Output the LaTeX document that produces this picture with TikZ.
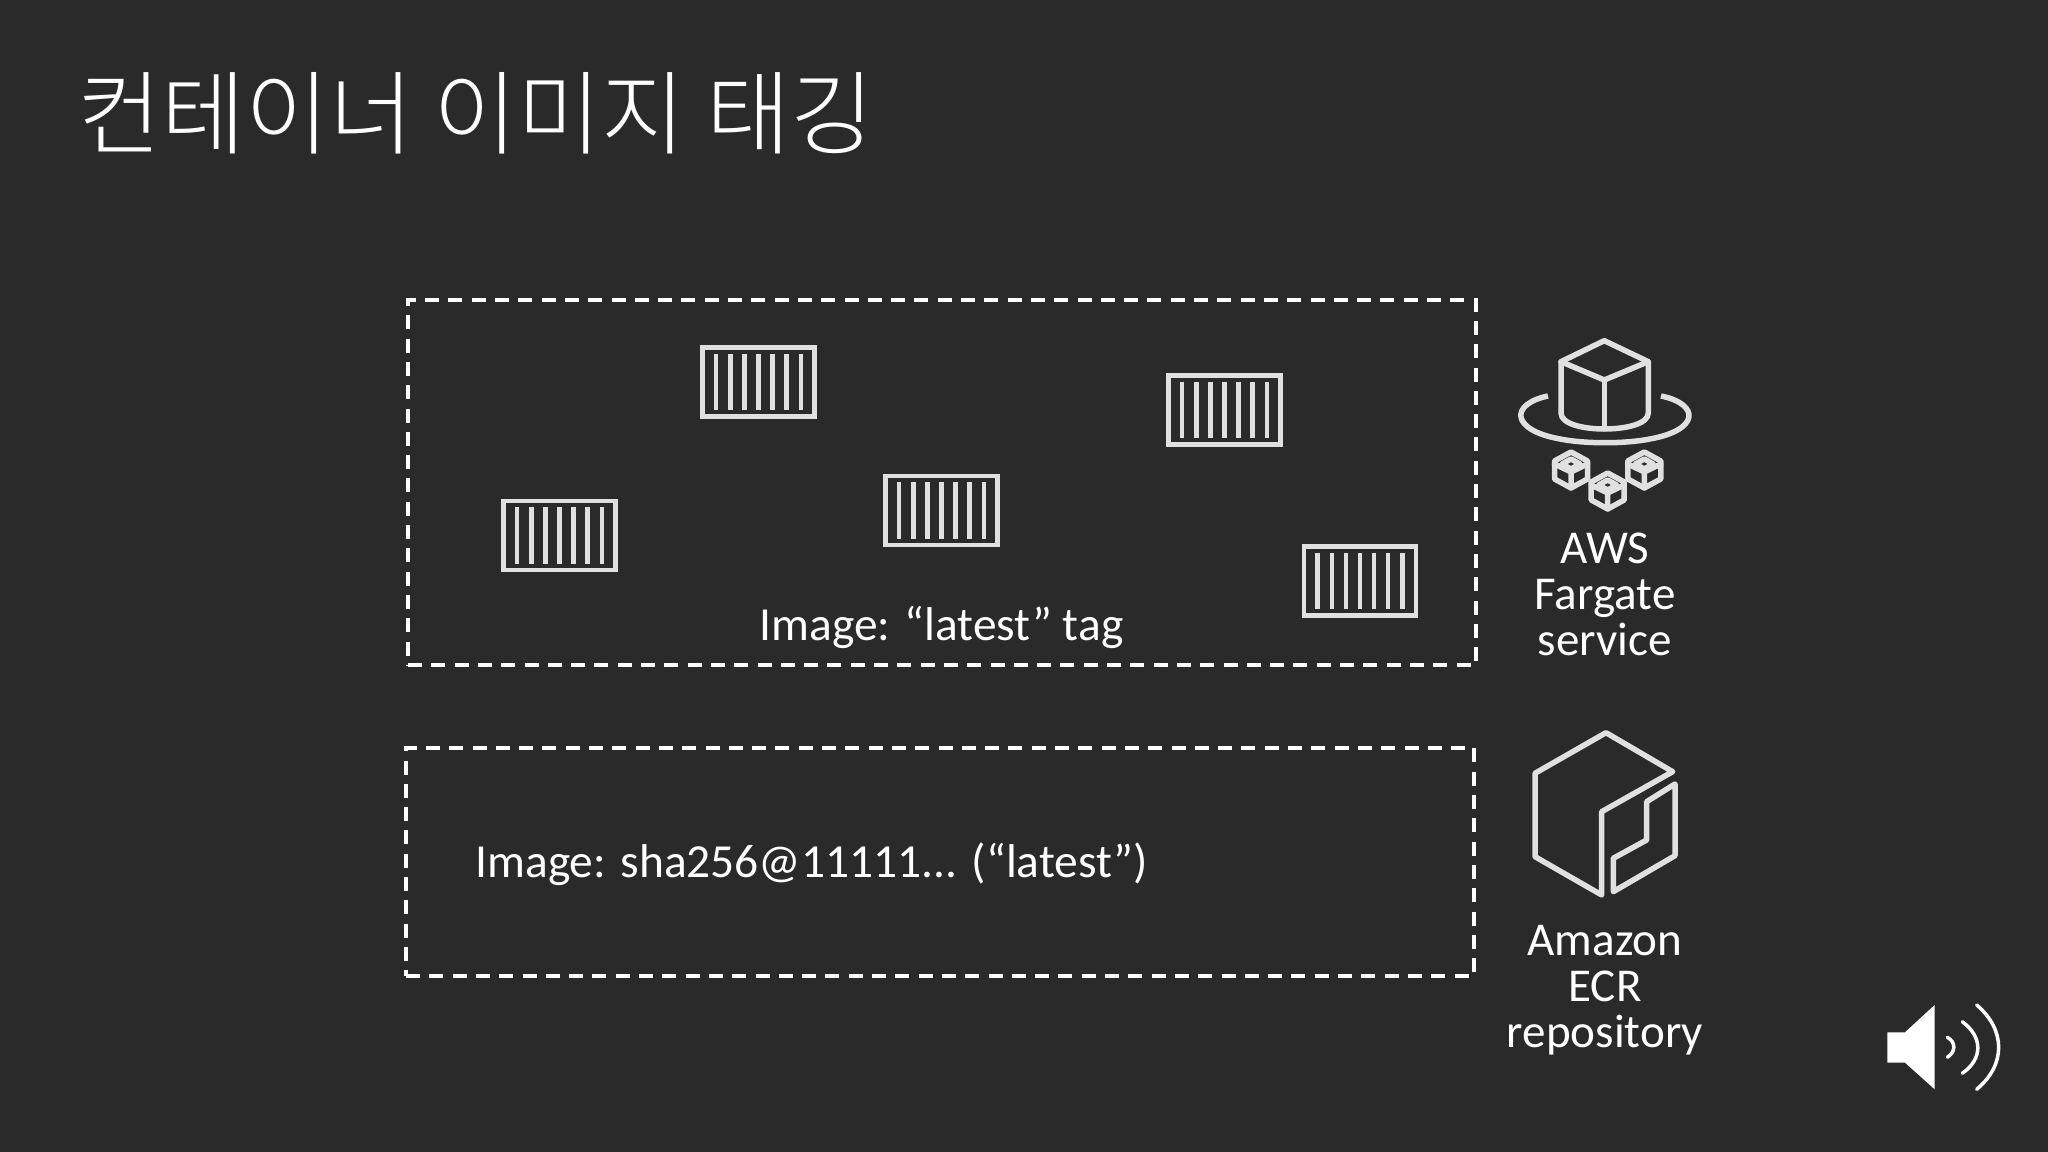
\documentclass[tikz,border=0pt]{standalone}
\usepackage{fontspec}
\setmainfont{Carlito}
\newfontfamily\cjk{Noto Sans CJK KR Light}
\definecolor{slidebg}{HTML}{2A2A2B}
\definecolor{icongrey}{HTML}{E0E0E0}
\tikzset{
  dashbox/.style={draw=white,line width=0.035cm,dash pattern=on 0.14cm off 0.093cm,inner sep=0pt},
  containerbox/.style={draw=icongrey,line width=0.045cm,minimum width=1.12cm,minimum height=0.69cm,inner sep=0pt},
  iconline/.style={draw=icongrey,line width=0.055cm,line join=round,line cap=round},
  boxlabel/.style={text=white,font=\fontsize{13.5}{13.5}\selectfont},
  iconlabel/.style={text=white,font=\fontsize{13.4}{13.1}\selectfont,align=center}
}
\newcommand{\containerbars}[1]{
  \foreach \i in {-3,...,3}
    \draw[icongrey,line width=0.045cm] ([xshift=\i*0.141cm,yshift=-0.085cm]#1.north) -- ([xshift=\i*0.141cm,yshift=0.085cm]#1.south);
}
\newcommand{\smallcube}[2]{
  \begin{scope}[shift={(#1,#2)}]
    \draw[iconline] (0,0.18) -- (0.165,0.09) -- (0.165,-0.09) -- (0,-0.18) -- (-0.165,-0.09) -- (-0.165,0.09) -- cycle;
    \draw[iconline] (-0.165,0.06) -- (0,-0.02) -- (0.165,0.06) (0,-0.02) -- (0,-0.18);
    \draw[iconline] (0,0.11) -- (0.09,0.06) -- (0,0.01) -- (-0.09,0.06) -- cycle;
  \end{scope}
}
\begin{document}
\begin{tikzpicture}
\useasboundingbox[fill=slidebg] (0,0) rectangle (20.48,11.52);
% title
\node (title) at (4.758,10.39) [text=white,font=\cjk\fontsize{26}{26}\selectfont] {컨테이너 이미지 태깅};
% dashed boxes
\node (fargatebox) at (9.42,6.695) [dashbox,minimum width=10.68cm,minimum height=3.65cm] {};
\node (ecrbox) at (9.40,2.90) [dashbox,minimum width=10.68cm,minimum height=2.28cm] {};
% containers
\node (c1) at (7.585,7.70) [containerbox] {};
\node (c2) at (12.245,7.42) [containerbox] {};
\node (c3) at (9.415,6.415) [containerbox] {};
\node (c4) at (5.595,6.165) [containerbox] {};
\node (c5) at (13.60,5.71) [containerbox] {};
\containerbars{c1}
\containerbars{c2}
\containerbars{c3}
\containerbars{c4}
\containerbars{c5}
% labels
\node (latest) at (9.415,5.25) [boxlabel] {Image: “latest” tag};
\node (sha) at (8.117,2.88) [boxlabel] {Image: sha256@11111... (“latest”)};
\node (fargate) at (16.05,5.58) [iconlabel] {AWS\\Fargate\\service};
\node (ecr) at (16.05,1.62) [iconlabel] {Amazon\\ECR\\repository};
% fargate icon
\draw[iconline] (16.043,11.52-3.407) -- (15.61,11.52-3.617) -- (15.61,11.52-4.13)
  .. controls (15.61,11.52-4.24) and (15.83,11.52-4.29) .. (16.043,11.52-4.29)
  .. controls (16.26,11.52-4.29) and (16.483,11.52-4.24) .. (16.483,11.52-4.13)
  -- (16.483,11.52-3.617) -- cycle;
\draw[iconline] (15.61,11.52-3.617) -- (16.043,11.52-3.80) -- (16.483,11.52-3.617);
\draw[iconline] (16.043,11.52-3.80) -- (16.043,11.52-4.29);
\draw[iconline,line cap=butt] (15.48,11.52-3.96) .. controls (15.1,11.52-4.04) and (15.1,11.52-4.30) .. (15.6,11.52-4.39)
  .. controls (15.85,11.52-4.44) and (16.25,11.52-4.44) .. (16.5,11.52-4.39)
  .. controls (17.0,11.52-4.30) and (17.0,11.52-4.04) .. (16.61,11.52-3.96);
\smallcube{15.71}{6.82}
\smallcube{16.077}{6.61}
\smallcube{16.443}{6.82}
% ecr icon
\draw[iconline] (16.06,11.52-7.327) -- (16.727,11.52-7.717) -- (16.017,11.52-8.117) -- (16.017,11.52-8.95) -- (15.35,11.52-8.567) -- (15.35,11.52-7.733) -- cycle;
\draw[iconline] (16.75,11.52-7.84) -- (16.75,11.52-8.557) -- (16.133,11.52-8.917) -- (16.133,11.52-8.583) -- (16.467,11.52-8.40) -- (16.467,11.52-8.017) -- cycle;
% speaker
\fill[white] (18.873,11.52-10.323) -- (19.05,11.52-10.323) -- (19.347,11.52-10.05) -- (19.347,11.52-10.893) -- (19.05,11.52-10.627) -- (18.873,11.52-10.627) -- cycle;
\draw[white,line width=0.035cm,line cap=round] (19.473,11.52-10.373) .. controls (19.56,11.52-10.42) and (19.56,11.52-10.52) .. (19.473,11.52-10.573);
\draw[white,line width=0.035cm,line cap=round] (19.623,11.52-10.217) .. controls (19.83,11.52-10.37) and (19.83,11.52-10.59) .. (19.623,11.52-10.733);
\draw[white,line width=0.035cm,line cap=round] (19.767,11.52-10.05) .. controls (20.06,11.52-10.3) and (20.06,11.52-10.65) .. (19.767,11.52-10.893);
\end{tikzpicture}
\end{document}
